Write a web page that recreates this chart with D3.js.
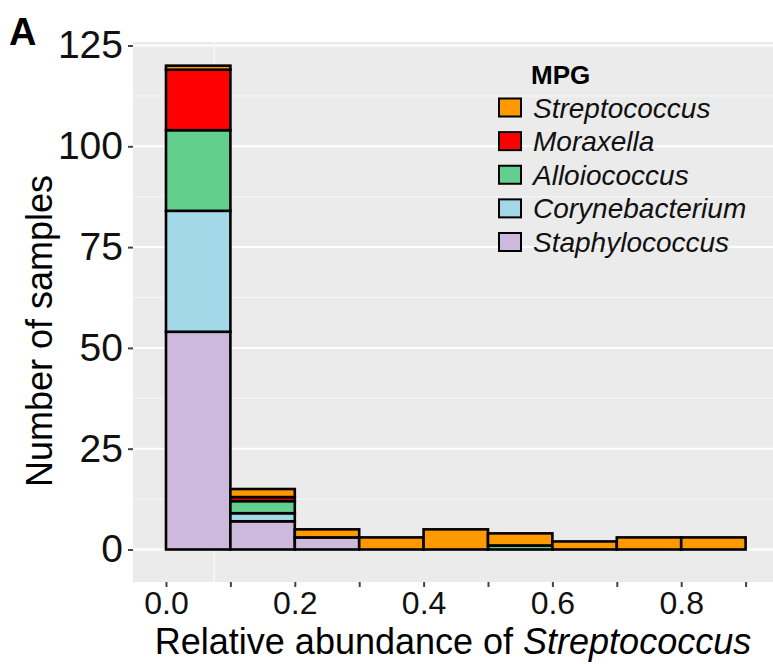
<!DOCTYPE html>
<html>
<head>
<meta charset="utf-8">
<script src="https://cdn.jsdelivr.net/npm/d3@7"></script>
<style>
  html, body { margin: 0; padding: 0; background: #fff; }
  svg { display: block; font-family: "Liberation Sans", Arial, Helvetica, sans-serif; }
</style>
</head>
<body>
<svg id="chart" width="773" height="664"></svg>
<script>
// ---- data ----
const binStarts = [0.0, 0.1, 0.2, 0.3, 0.4, 0.5, 0.6, 0.7, 0.8];
const binWidth = 0.1;
const staphylococcus  = [54, 7, 3, 0, 0, 0, 0, 0, 0];
const corynebacterium = [30, 2, 0, 0, 0, 0, 0, 0, 0];
const alloiococcus    = [20, 3, 0, 0, 0, 1, 0, 0, 0];
const moraxella       = [15, 1, 0, 0, 0, 0, 0, 0, 0];
const streptococcus   = [ 1, 2, 2, 3, 5, 3, 2, 3, 3];

const groups = ["Staphylococcus", "Corynebacterium", "Alloiococcus", "Moraxella", "Streptococcus"]; // stack bottom->top
const legendOrder = ["Streptococcus", "Moraxella", "Alloiococcus", "Corynebacterium", "Staphylococcus"];
const colors = ["#CDB9DC", "#A3D8E9", "#63CF8F", "#FF0000", "#FF9900"];

const yTicks = [0, 25, 50, 75, 100, 125];
const yMinor = [12.5, 37.5, 62.5, 87.5, 112.5];
const xTicks = [0.0, 0.1, 0.2, 0.3, 0.4, 0.5, 0.6, 0.7, 0.8, 0.9];
const xLabels = [0.0, 0.2, 0.4, 0.6, 0.8];
const xGrid = [0.075];

// ---- build table ----
const seriesValues = {
  Staphylococcus: staphylococcus,
  Corynebacterium: corynebacterium,
  Alloiococcus: alloiococcus,
  Moraxella: moraxella,
  Streptococcus: streptococcus
};
const table = binStarts.map((b, i) => {
  const row = { x0: b };
  groups.forEach(g => row[g] = seriesValues[g][i]);
  return row;
});
const color = d3.scaleOrdinal().domain(groups).range(colors);

// ---- layout ----
const svg = d3.select("#chart");
const panel = { left: 133, right: 773, top: 42, bottom: 582 };
const x = d3.scaleLinear().domain([0, 0.9]).range([166, 745.6]);
const y = d3.scaleLinear().domain([0, 125]).range([549.5, 45.5]);

// panel background
svg.append("rect")
  .attr("x", panel.left).attr("y", panel.top)
  .attr("width", panel.right - panel.left).attr("height", panel.bottom - panel.top)
  .attr("fill", "#EBEBEB");

// gridlines
svg.append("g").selectAll("line").data(yMinor).join("line")
  .attr("x1", panel.left).attr("x2", panel.right)
  .attr("y1", d => y(d)).attr("y2", d => y(d))
  .attr("stroke", "#F7F7F7").attr("stroke-width", 1);
svg.append("g").selectAll("line").data(yTicks).join("line")
  .attr("x1", panel.left).attr("x2", panel.right)
  .attr("y1", d => y(d)).attr("y2", d => y(d))
  .attr("stroke", "#FFFFFF").attr("stroke-width", 2);
svg.append("g").selectAll("line").data(xGrid).join("line")
  .attr("x1", d => x(d)).attr("x2", d => x(d))
  .attr("y1", panel.top).attr("y2", panel.bottom)
  .attr("stroke", "#F7F7F7").attr("stroke-width", 1.5);

// stacked bars
const stack = d3.stack().keys(groups);
const stacked = stack(table);
const barG = svg.append("g");
stacked.forEach(layer => {
  barG.append("g").selectAll("rect")
    .data(layer.filter(d => d[1] - d[0] > 0))
    .join("rect")
    .attr("x", d => x(d.data.x0))
    .attr("width", d => x(d.data.x0 + binWidth) - x(d.data.x0))
    .attr("y", d => y(d[1]))
    .attr("height", d => y(d[0]) - y(d[1]))
    .attr("fill", color(layer.key))
    .attr("stroke", "#000")
    .attr("stroke-width", 2.6);
});

// y axis
const yAxis = d3.axisLeft(y).tickValues(yTicks).tickSize(5).tickPadding(5).tickFormat(d3.format("d"));
const yg = svg.append("g").attr("transform", `translate(${panel.left},0)`).call(yAxis);
yg.select(".domain").remove();
yg.selectAll(".tick line").attr("stroke", "#444").attr("stroke-width", 2);
yg.selectAll(".tick text").attr("font-size", 39).attr("fill", "#111")
  .attr("font-family", "Liberation Sans, Arial, sans-serif");

// x axis
const xAxis = d3.axisBottom(x).tickValues(xTicks).tickSize(5).tickPadding(4)
  .tickFormat(d => xLabels.some(v => Math.abs(v - d) < 1e-9) ? d3.format(".1f")(d) : "");
const xg = svg.append("g").attr("transform", `translate(0,${panel.bottom})`).call(xAxis);
xg.select(".domain").remove();
xg.selectAll(".tick line").attr("stroke", "#444").attr("stroke-width", 2);
xg.selectAll(".tick text").attr("font-size", 32).attr("fill", "#111")
  .attr("font-family", "Liberation Sans, Arial, sans-serif");

// axis titles
svg.append("text")
  .attr("transform", `translate(52,331) rotate(-90)`)
  .attr("text-anchor", "middle")
  .attr("font-size", 36).attr("fill", "#000")
  .text("Number of samples");

const xt = svg.append("text")
  .attr("x", 453).attr("y", 654)
  .attr("text-anchor", "middle")
  .attr("font-size", 36).attr("fill", "#000");
xt.append("tspan").text("Relative abundance of ");
xt.append("tspan").attr("font-style", "italic").text("Streptococcus");

// panel tag
svg.append("text").attr("x", 9).attr("y", 45)
  .attr("font-size", 38).attr("font-weight", "bold").text("A");

// legend
const lg = svg.append("g");
lg.append("text").attr("x", 531).attr("y", 84)
  .attr("font-size", 26).attr("font-weight", "bold").text("MPG");
const rowY = d3.scalePoint().domain(legendOrder).range([107.5, 242]);
const rows = lg.selectAll("g.row").data(legendOrder).join("g").attr("class", "row")
  .attr("transform", d => `translate(0,${rowY(d)})`);
rows.append("rect")
  .attr("x", 499).attr("y", -9).attr("width", 22).attr("height", 18)
  .attr("fill", d => color(d)).attr("stroke", "#000").attr("stroke-width", 2);
rows.append("text")
  .attr("x", 533).attr("y", 10)
  .attr("font-size", 28).attr("font-style", "italic").attr("fill", "#111")
  .text(d => d);
</script>
</body>
</html>
